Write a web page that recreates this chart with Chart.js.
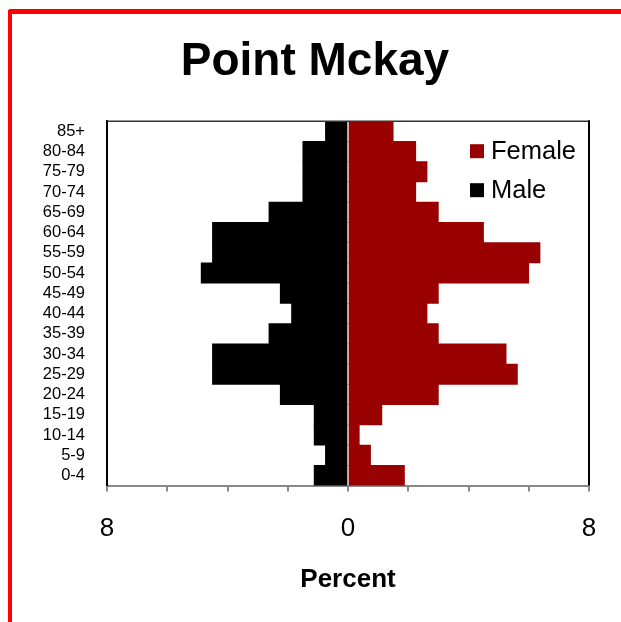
<!DOCTYPE html>
<html>
<head>
<meta charset="utf-8">
<script src="https://cdn.jsdelivr.net/npm/chart.js@4/dist/chart.umd.min.js"></script>
<style>
  html, body { margin: 0; padding: 0; background: #fff; }
  body { width: 621px; height: 622px; overflow: hidden; position: relative; }
  #frame { position: absolute; left: 8px; top: 9px; width: 640px; height: 640px;
           border-left: 4px solid #ff0000; border-top: 5px solid #ff0000; border-top-left-radius: 3px; }
  #wrap { position: absolute; left: 12px; top: 14px; width: 609px; height: 608px; }
</style>
</head>
<body>
<div id="frame"></div>
<div id="wrap"><canvas id="pyramid"></canvas></div>
<script>
// DATA (percent of population, bottom age group first)
const AGE_GROUPS = ["0-4", "5-9", "10-14", "15-19", "20-24", "25-29", "30-34", "35-39", "40-44",
                    "45-49", "50-54", "55-59", "60-64", "65-69", "70-74", "75-79", "80-84", "85+"];
const FEMALE = [1.875, 0.75, 0.375, 1.125, 3.0, 5.625, 5.25, 3.0, 2.625,
                3.0, 6.0, 6.375, 4.5, 3.0, 2.25, 2.625, 2.25, 1.5];
const MALE   = [1.125, 0.75, 1.125, 1.125, 2.25, 4.5, 4.5, 2.625, 1.875,
                2.25, 4.875, 4.5, 4.5, 2.625, 1.5, 1.5, 1.5, 0.75];
const X_LABELED_TICKS = [-8, 0, 8];

const FONT = "'Liberation Sans', Arial, sans-serif";

// legend drawn inside the plot box, top right
const innerLegend = {
  id: "innerLegend",
  afterDatasetsDraw(chart) {
    const { ctx, chartArea: a } = chart;
    ctx.save();
    // frame top + right
    ctx.strokeStyle = "#333";
    ctx.lineWidth = 1.5;
    ctx.beginPath();
    ctx.moveTo(a.left, a.top);
    ctx.lineTo(a.right, a.top);
    ctx.stroke();
    ctx.strokeStyle = "#000";
    ctx.lineWidth = 2;
    ctx.beginPath();
    ctx.moveTo(a.right, a.top - 1);
    ctx.lineTo(a.right, a.bottom);
    ctx.stroke();

    ctx.font = "25.5px " + FONT;
    ctx.textBaseline = "middle";
    chart.data.datasets.forEach((ds, i) => {
      const y = a.top + 30 + i * 39;
      ctx.fillStyle = ds.backgroundColor;
      ctx.fillRect(a.right - 119, y - 7, 14, 14);
      ctx.fillStyle = "#000";
      ctx.fillText(ds.label, a.right - 98, y + 1);
    });
    ctx.restore();
  }
};

new Chart(document.getElementById("pyramid"), {
  type: "bar",
  data: {
    labels: AGE_GROUPS,
    datasets: [
      { label: "Female", data: FEMALE, backgroundColor: "#990000", borderWidth: 0 },
      { label: "Male", data: MALE.map(v => -v), backgroundColor: "#000000", borderWidth: 0 }
    ]
  },
  options: {
    indexAxis: "y",
    responsive: true,
    maintainAspectRatio: false,
    animation: false,
    datasets: { bar: { categoryPercentage: 1.0, barPercentage: 1.0 } },
    layout: { padding: { left: 29, right: 32, top: 0, bottom: 27 } },
    scales: {
      x: {
        stacked: true,
        min: -8,
        max: 8,
        grid: { drawOnChartArea: false, color: "#888", tickLength: 6, lineWidth: 2 },
        border: { color: "#888", width: 2 },
        ticks: {
          stepSize: 2,
          autoSkip: false,
          maxRotation: 0,
          padding: 22,
          color: "#000",
          font: { family: FONT, size: 26 },
          callback: v => (X_LABELED_TICKS.includes(v) ? Math.abs(v) : "")
        },
        title: {
          display: true,
          text: "Percent",
          color: "#000",
          font: { family: FONT, size: 26, weight: "bold" },
          padding: { top: -3, bottom: 0 }
        }
      },
      y: {
        stacked: true,
        reverse: true,
        afterFit: s => { s.width = 66; },
        grid: { drawOnChartArea: false, drawTicks: false },
        border: { color: "#000", width: 2 },
        ticks: {
          autoSkip: false,
          padding: 22,
          color: "#000",
          font: { family: FONT, size: 16.5 }
        }
      }
    },
    plugins: {
      legend: { display: false },
      tooltip: { enabled: false },
      title: {
        display: true,
        text: "Point Mckay",
        color: "#000",
        font: { family: FONT, size: 46, weight: "bold" },
        padding: { top: 21, bottom: 31 }
      }
    }
  },
  plugins: [innerLegend]
});
</script>
</body>
</html>
